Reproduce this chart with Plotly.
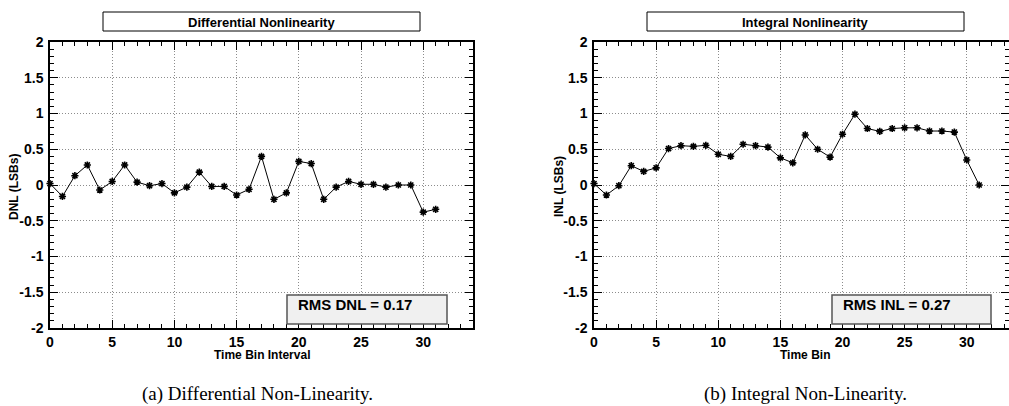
import plotly.graph_objects as go

# ---- data ----
bins = list(range(32))
dnl = [0.02, -0.16, 0.13, 0.28, -0.07, 0.05, 0.28, 0.04, -0.01, 0.02,
       -0.11, -0.03, 0.18, -0.02, -0.02, -0.14, -0.06, 0.40, -0.20, -0.11,
       0.33, 0.30, -0.20, -0.03, 0.05, 0.01, 0.01, -0.03, 0.00, 0.00,
       -0.38, -0.34]
inl = [0.02, -0.14, -0.01, 0.27, 0.19, 0.24, 0.51, 0.55, 0.54, 0.555,
       0.43, 0.40, 0.57, 0.55, 0.53, 0.38, 0.31, 0.70, 0.50, 0.39,
       0.71, 0.99, 0.79, 0.75, 0.79, 0.80, 0.80, 0.755, 0.755, 0.74,
       0.35, 0.00]
ytick_vals = [-2, -1.5, -1, -0.5, 0, 0.5, 1, 1.5, 2]
ytick_text = ["-2", "-1.5", "-1", "-0.5", "0", "0.5", "1", "1.5", "2"]
xtick_vals = [0, 5, 10, 15, 20, 25, 30]
xtick_text = ["0", "5", "10", "15", "20", "25", "30"]
titles = ["Differential Nonlinearity", "Integral Nonlinearity"]
ytitles = ["DNL (LSBs)", "INL (LSBs)"]
xtitles = ["Time Bin Interval", "Time Bin"]
rms_text = ["RMS DNL = 0.17", "RMS INL = 0.27"]
captions = ["(a) Differential Non-Linearity.", "(b) Integral Non-Linearity."]

W, H = 1009, 406
def px(x): return x / W
def py(y): return 1 - y / H

SANS = "Liberation Sans, Arial, sans-serif"
SERIF = "Liberation Serif, Times New Roman, serif"
GRID = "#8c8c8c"

fig = go.Figure()
for i, (ys, xa, ya) in enumerate([(dnl, "x", "y"), (inl, "x2", "y2")]):
    fig.add_trace(go.Scatter(
        x=bins, y=ys, xaxis=xa, yaxis=ya, mode="lines+markers",
        line=dict(color="black", width=1),
        marker=dict(symbol="asterisk-open", size=6, color="black",
                    line=dict(color="black", width=1.6)),
        showlegend=False, cliponaxis=False))

def xax(domain, rng):
    return dict(domain=domain, range=rng, showline=True, linecolor="black",
                linewidth=1.5, mirror="ticks", ticks="inside", ticklen=8,
                tickwidth=1.2, tickcolor="black", tickvals=xtick_vals,
                ticktext=xtick_text, showgrid=True, gridcolor=GRID,
                griddash="1px,2px", gridwidth=1, zeroline=False,
                automargin=False, ticklabelstandoff=0,
                tickfont=dict(family=SANS, size=14, color="black", weight="bold"),
                minor=dict(dtick=1, tick0=0, ticks="inside", ticklen=4,
                           tickwidth=1.2, tickcolor="black", showgrid=False),
                fixedrange=True)

def yax(domain, anchor):
    return dict(domain=domain, range=[-2, 2], anchor=anchor, showline=True,
                linecolor="black", linewidth=1.5, mirror="ticks",
                ticks="inside", ticklen=8, tickwidth=1.2, tickcolor="black",
                tickvals=ytick_vals, ticktext=ytick_text, showgrid=True,
                gridcolor=GRID, griddash="1px,2px", gridwidth=1,
                zeroline=False, automargin=False, ticklabelstandoff=2,
                tickfont=dict(family=SANS, size=14, color="black", weight="bold"),
                minor=dict(dtick=0.1, tick0=0, ticks="inside", ticklen=4,
                           tickwidth=1.2, tickcolor="black", showgrid=False),
                fixedrange=True)

ydom = [py(328), py(42)]
fig.update_layout(
    template="none",
    width=W, height=H, margin=dict(l=0, r=0, t=0, b=0, pad=0),
    paper_bgcolor="white", plot_bgcolor="white", showlegend=False,
    xaxis=dict(xax([px(50), px(473)], [0, 34]), anchor="y"),
    yaxis=yax(ydom, "x"),
    xaxis2=dict(xax([px(594), 1.0], [0, 33.4]), anchor="y2"),
    yaxis2=yax(ydom, "x2"),
)

shapes = []
annotations = []
panels = [
    dict(tbox=(103, 420), cx=261, ytx=14, rms=(287, 447), xt=262, cap=257),
    dict(tbox=(647, 964), cx=805, ytx=559, rms=(832, 991), xt=805, cap=805),
]
def ann(x, y, text, font, **kw):
    d = dict(xref="paper", yref="paper", x=px(x), y=py(y), text=text,
             showarrow=False, xanchor="center", yanchor="middle", font=font)
    d.update(kw)
    return d

for i, p in enumerate(panels):
    shapes.append(dict(type="rect", xref="paper", yref="paper",
                       x0=px(p["tbox"][0]), x1=px(p["tbox"][1]),
                       y0=py(31), y1=py(12), line=dict(color="black", width=1),
                       fillcolor="white"))
    annotations.append(ann(p["cx"], 22, titles[i],
                           dict(family=SANS, size=13, color="black", weight="bold")))
    shapes.append(dict(type="rect", xref="paper", yref="paper",
                       x0=px(p["rms"][0]), x1=px(p["rms"][1]),
                       y0=py(324), y1=py(295), line=dict(color="#555555", width=1.5),
                       fillcolor="#f0f0f0", layer="above"))
    annotations.append(ann(p["rms"][0] + 9, 304, rms_text[i],
                           dict(family=SANS, size=15, color="black", weight="bold"),
                           xanchor="left"))
    annotations.append(ann(p["ytx"], 187, ytitles[i],
                           dict(family=SANS, size=12, color="black", weight="bold"),
                           textangle=-90))
    annotations.append(ann(p["xt"], 355, xtitles[i],
                           dict(family=SANS, size=12, color="black", weight="bold")))
    annotations.append(ann(p["cap"], 394, captions[i],
                           dict(family=SERIF, size=19, color="black")))

fig.update_layout(shapes=shapes, annotations=annotations)
fig.write_html("out.html", config={"displayModeBar": False},
               post_script="document.body.style.margin='0px';document.body.style.overflow='hidden';")
